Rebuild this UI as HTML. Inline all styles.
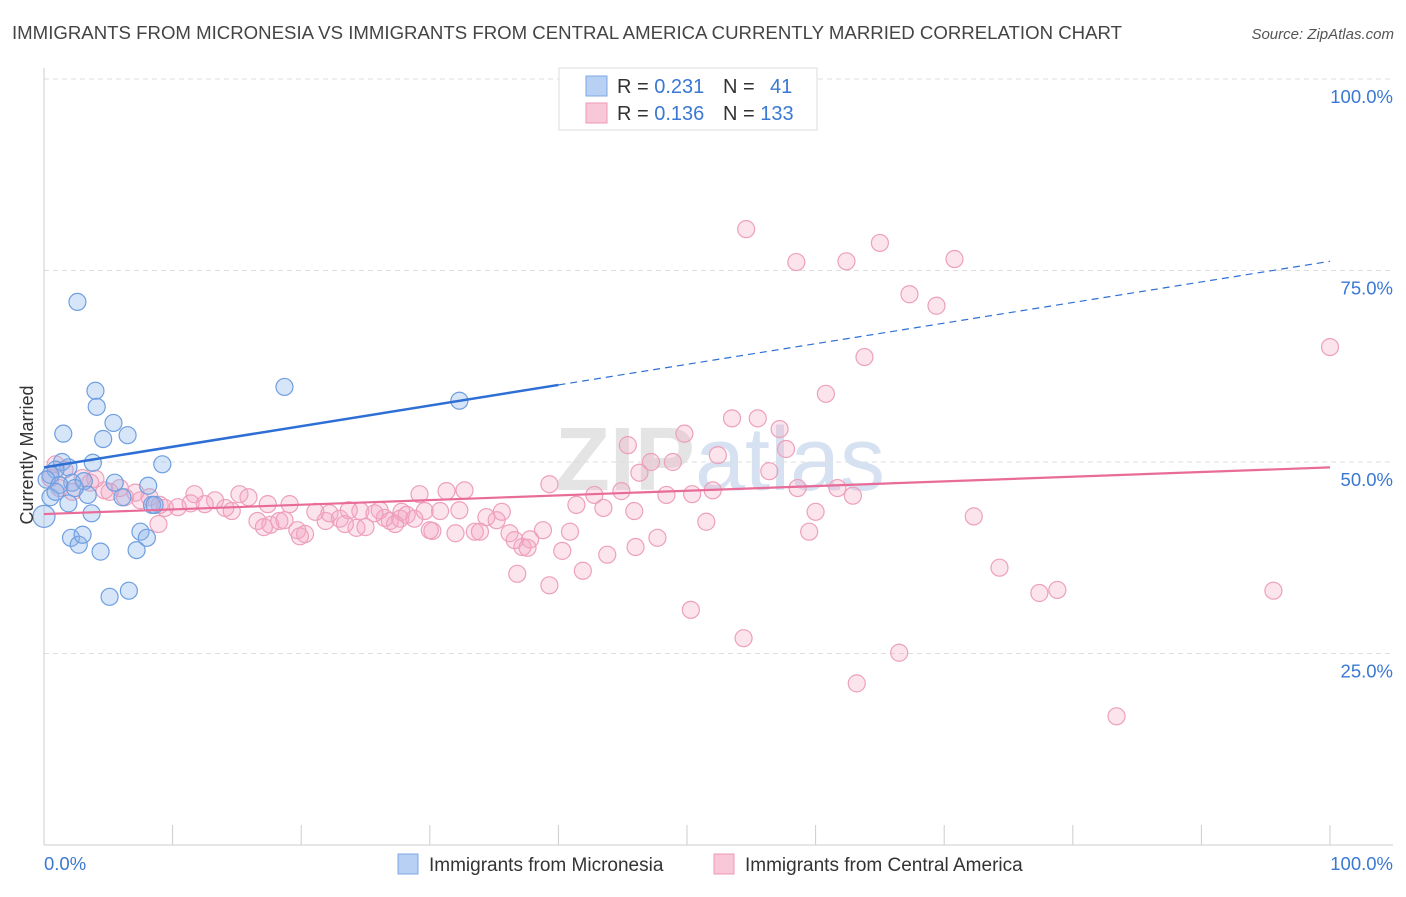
<!DOCTYPE html>
<html><head><meta charset="utf-8"><style>
body{margin:0;background:#fff;font-family:"Liberation Sans",sans-serif;}
svg text{font-family:"Liberation Sans",sans-serif;}
</style></head><body>
<svg id="chart" width="1406" height="892" xmlns="http://www.w3.org/2000/svg">
<text x="12" y="39" font-size="18" fill="#444" textLength="1110" lengthAdjust="spacingAndGlyphs">IMMIGRANTS FROM MICRONESIA VS IMMIGRANTS FROM CENTRAL AMERICA CURRENTLY MARRIED CORRELATION CHART</text>
<text x="1394" y="39" font-size="15" fill="#555" text-anchor="end" font-style="italic">Source: ZipAtlas.com</text>
<text x="720" y="490" font-size="90" fill="#e4e4e4" text-anchor="middle" font-family="Liberation Serif" font-weight="bold">ZIP<tspan fill="#d6e2f2" font-family="Liberation Sans" font-weight="normal">atlas</tspan></text>
<g id="grid"></g>
<g id="axes"></g>
<g id="pinkpts"></g>
<g id="bluepts"></g>
<g id="lines"></g>
<text transform="translate(33,455) rotate(-90)" font-size="18" fill="#333" text-anchor="middle">Currently Married</text>
<g>
<rect x="559" y="68" width="258" height="62" fill="#fff" stroke="#ddd"/>
<rect x="586" y="76" width="21" height="20" fill="#b7d0f4" stroke="#7ea8e6"/>
<text x="617" y="93" font-size="20" fill="#333">R = <tspan fill="#3a78d4">0.231</tspan></text>
<text x="723" y="93" font-size="20" fill="#333">N = <tspan fill="#3a78d4" x="770">41</tspan></text>
<rect x="586" y="103" width="21" height="20" fill="#f8c8d8" stroke="#ec9ab6"/>
<text x="617" y="120" font-size="20" fill="#333">R = <tspan fill="#3a78d4">0.136</tspan></text>
<text x="723" y="120" font-size="20" fill="#333">N = <tspan fill="#3a78d4">133</tspan></text>
</g>
<g>
<rect x="398" y="854" width="20" height="20" fill="#b7d0f4" stroke="#7ea8e6"/>
<text x="429" y="871" font-size="19" fill="#333">Immigrants from Micronesia</text>
<rect x="714" y="854" width="20" height="20" fill="#f8c8d8" stroke="#ec9ab6"/>
<text x="745" y="871" font-size="19" fill="#333">Immigrants from Central America</text>
</g>
</svg>
<script>
const blueX=[2.6,4.0,4.1,5.4,6.5,4.6,1.5,3.8,9.2,18.7,32.3,1.9,1.4,0.9,0.5,0.2,2.2,3.1,5.5,8.1,3.4,6.1,8.4,3.7,1.9,2.1,2.7,3.0,4.4,7.5,8.0,7.2,5.1,6.6,0,0.5,1.2,2.4,0.9,8.6];
const blueY=[70.9,59.3,57.2,55.1,53.5,53.0,53.7,49.9,49.7,59.8,58.0,49.3,50.0,49.0,48.3,47.7,47.3,47.5,47.3,46.9,45.7,45.4,44.4,43.3,44.6,40.1,39.2,40.5,38.3,40.9,40.1,38.5,32.4,33.2,42.9,45.4,47.0,46.6,46.1,44.4];
const pinkX=[54.6,65.0,58.5,62.4,70.8,67.3,69.4,63.8,100,60.8,53.5,55.5,57.2,49.8,45.4,57.7,52.4,47.2,48.9,46.3,56.4,39.3,42.8,44.9,48.4,50.4,52.0,58.6,61.7,62.9,41.4,43.5,45.9,51.5,60.0,72.3,59.5,38.8,47.7,46.0,43.8,40.3,37.2,37.8,36.8,39.3,41.9,50.3,54.4,66.5,63.2,83.4,74.3,77.4,78.8,95.6,32.7,31.3,29.2,27.8,26.1,24.6,23.0,21.1,19.1,17.6,16.6,15.2,15.9,13.3,11.7,11.4,10.4,9.4,8.2,7.1,5.9,4.7,4.0,3.0,1.6,0.9,0.5,1.2,2.2,3.6,5.1,6.3,7.5,9.0,12.5,14.1,14.6,17.1,18.3,19.7,20.3,21.9,23.7,24.3,25.0,26.5,26.9,27.7,28.2,29.6,30.8,30.2,32.0,33.5,34.4,35.2,35.6,33.9,36.2,36.6,37.6,40.9,8.9,25.7,27.3,28.8,30.0,32.3,17.4,18.7,19.9,23.4,22.2];
const pinkY=[80.4,78.6,76.1,76.2,76.5,71.9,70.4,63.7,65.0,58.9,55.7,55.7,54.3,53.7,52.2,51.7,50.9,50.0,50.0,48.6,48.8,47.1,45.7,46.2,45.7,45.8,46.3,46.6,46.6,45.6,44.4,44.0,43.6,42.2,43.5,42.9,40.9,41.1,40.1,38.9,37.9,38.4,38.9,39.9,35.4,33.9,35.8,30.7,27.0,25.1,21.1,16.8,36.2,32.9,33.3,33.2,46.3,46.2,45.8,43.5,43.7,43.6,42.6,43.5,44.5,41.8,42.3,45.8,45.4,45.0,45.8,44.6,44.1,44.0,45.4,46.0,46.6,46.3,47.8,47.9,49.0,49.7,47.9,46.6,46.1,47.3,46.1,45.4,45.0,44.4,44.5,44.0,43.6,41.5,42.3,41.1,40.6,42.3,43.7,41.4,41.5,42.7,42.3,42.6,43.1,43.6,43.6,41.0,40.7,40.9,42.8,42.4,43.5,40.9,40.7,39.8,38.8,40.9,41.9,43.3,41.9,42.6,41.1,43.7,44.5,42.4,40.3,41.9,43.3];
const yTicks=[25,50,75,100];
const yTickLabels=["25.0%","50.0%","75.0%","100.0%"];
const blueTrend=[49.3,76.2];
const pinkTrend=[43.2,49.3];
const NS="http://www.w3.org/2000/svg";
const X0=44,X1=1330,Y0=845,Y100=79;
function sx(v){return X0+(X1-X0)*v/100;}
function sy(v){return Y0-(Y0-Y100)*v/100;}
function mk(tag,attrs,parent){const e=document.createElementNS(NS,tag);for(const k in attrs)e.setAttribute(k,attrs[k]);parent.appendChild(e);return e;}
const grid=document.getElementById('grid'),axes=document.getElementById('axes');
const g100=mk('line',{x1:X0,x2:1393,y1:sy(100),y2:sy(100),stroke:'#ddd','stroke-dasharray':'5,4'},grid);


yTicks.forEach((t,i)=>{
  if(t<100){const l=mk('line',{x1:X0,x2:1393,y1:sy(t),y2:sy(t),stroke:'#ddd','stroke-dasharray':'5,4'},grid);
  
  }
  const tx=mk('text',{x:1393,y:sy(t)+24,'font-size':18.5,fill:'#3a78d4','text-anchor':'end'},axes);
  tx.textContent=yTickLabels[i];
  
  
});
const xa=mk('line',{x1:X0,x2:1393,y1:Y0,y2:Y0,stroke:'#ccc'},axes);


const ya=mk('line',{x1:X0,x2:X0,y1:68,y2:Y0,stroke:'#ccc'},axes);


for(let i=1;i<=10;i++){const t=mk('line',{x1:sx(i*10),x2:sx(i*10),y1:Y0,y2:Y0-20,stroke:'#ccc'},axes);

}
const xl0=mk('text',{x:44,y:870,'font-size':18.5,fill:'#3a78d4'},axes);xl0.textContent='0.0%';


const xl1=mk('text',{x:1393,y:870,'font-size':18.5,fill:'#3a78d4','text-anchor':'end'},axes);xl1.textContent='100.0%';


const pg=document.getElementById('pinkpts');
pinkX.forEach((v,i)=>{const c=mk('circle',{cx:sx(v),cy:sy(pinkY[i]),r:8.5,fill:'rgba(244,166,194,0.3)',stroke:'#eda0bb','stroke-width':1.2},pg);

});
const bg=document.getElementById('bluepts');
blueX.forEach((v,i)=>{const c=mk('circle',{cx:sx(v),cy:sy(blueY[i]),r:(i==34?11:8.5),fill:'rgba(140,180,235,0.35)',stroke:'#6f9fe0','stroke-width':1.2},bg);

});
const lg=document.getElementById('lines');
const bm=blueTrend[0]+(blueTrend[1]-blueTrend[0])*0.4;
const b1=mk('line',{x1:sx(0),y1:sy(blueTrend[0]),x2:sx(40),y2:sy(bm),stroke:'#2e6fd6','stroke-width':2.5},lg);


const b2=mk('line',{x1:sx(40),y1:sy(bm),x2:sx(100),y2:sy(blueTrend[1]),stroke:'#2e6fd6','stroke-width':1.2,'stroke-dasharray':'7,5'},lg);


const p1=mk('line',{x1:sx(0),y1:sy(pinkTrend[0]),x2:sx(100),y2:sy(pinkTrend[1]),stroke:'#e86b98','stroke-width':2.2},lg);


</script>
</body></html>
